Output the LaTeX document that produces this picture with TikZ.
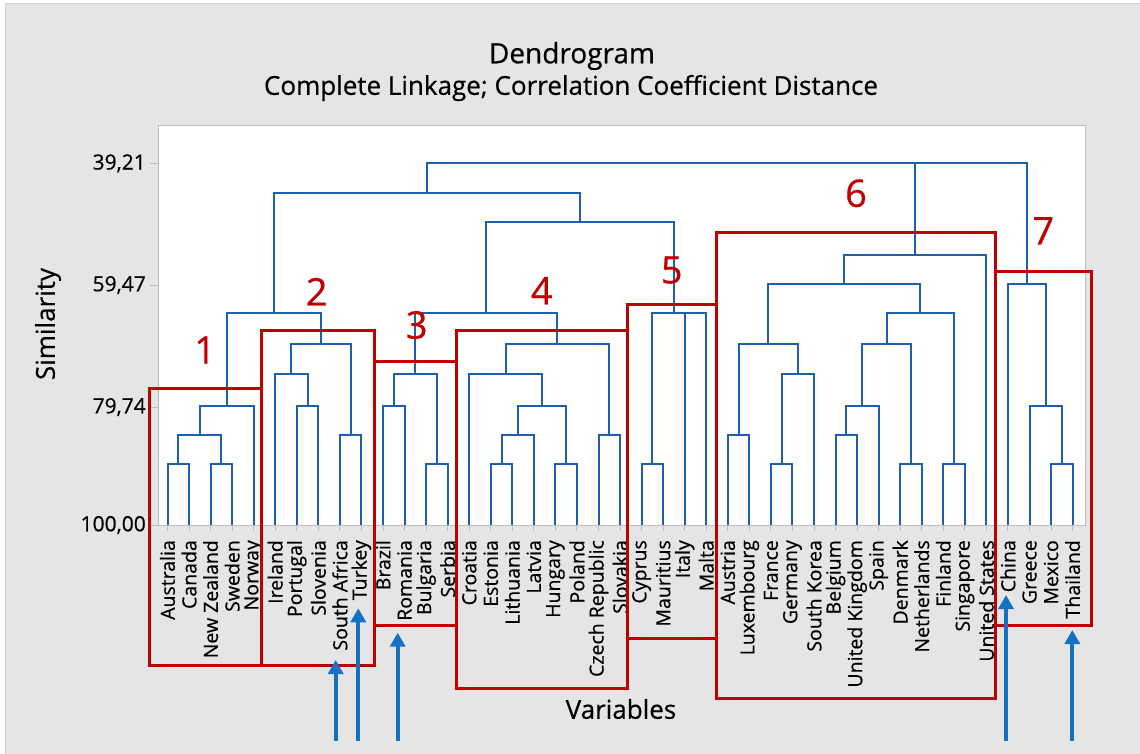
\documentclass[tikz,border=0pt]{standalone}
\usepackage{fontspec}
\setmainfont{Open Sans}[FakeBold=0.5]
\usetikzlibrary{calc,arrows.meta}

\definecolor{dendroblue}{RGB}{30,96,176}
\definecolor{boxred}{RGB}{192,0,0}
\definecolor{arrowblue}{RGB}{20,114,196}
\definecolor{panelgray}{RGB}{229,229,229}
\definecolor{framegray}{RGB}{190,190,190}

% join two clusters #1 and #2 into #3 at height #4 (pixels from top)
\newcommand{\mergeat}[4]{%
  \coordinate (#3-m) at ($(#1)!0.5!(#2)$);
  \coordinate (#3) at (#3-m |- 0,#4);
  \draw[dendro] (#1) -- (#1 |- #3) -- (#2 |- #3) -- (#2);
}

\begin{document}
\begin{tikzpicture}[x=1pt, y=-1pt,
    dendro/.style={dendroblue, line width=2pt},
    redbox/.style={boxred, line width=3pt},
    upmark/.style={arrowblue, line width=4pt, -{Triangle[width=15pt,length=14pt]}},
    tickline/.style={framegray, line width=1pt},
    leaflabel/.style={rotate=90, anchor=east, inner sep=0pt, font=\fontsize{19.5}{19.5}\selectfont},
    boxnum/.style={boxred, inner sep=0pt, font=\fontsize{38}{38}\selectfont}]
    \useasboundingbox (0,0) rectangle (1140,754);

    % 1. Nền và khung vùng vẽ
    \fill[white] (0,0) rectangle (1140,754);
    \draw[fill=panelgray, draw=framegray!70] (5,3) rectangle (1141,755);
    \draw[fill=white, draw=framegray] (158.3,125) rectangle (1085,525);

    % 2. Tiêu đề và nhãn trục
    \node[font=\fontsize{28}{28}\selectfont] (title) at (572,56) {Dendrogram};
    \node[font=\fontsize{26}{26}\selectfont] (subtitle) at (571,88) {Complete Linkage; Correlation Coefficient Distance};
    \node[rotate=90, font=\fontsize{26}{26}\selectfont] (ylab) at (48,324) {Similarity};
    \node[font=\fontsize{26}{26}\selectfont] (xlab) at (621,709) {Variables};

    % 3. Trục tung
    \foreach \val/\yy [count=\k] in {39{,}21/163.3, 59{,}47/285, 79{,}74/407, 100{,}00/525} {
        \draw[tickline] (150,\yy) -- (158.3,\yy);
        \node[anchor=east, inner sep=0pt, font=\fontsize{21}{21}\selectfont] (s\k) at (146,\yy) {\val};
    }

    % 4. Các lá và nhãn quốc gia
    \foreach \name [count=\i from 0] in {Australia, Canada, New Zealand, Sweden, Norway,
        Ireland, Portugal, Slovenia, South Africa, Turkey, Brazil, Romania, Bulgaria, Serbia,
        Croatia, Estonia, Lithuania, Latvia, Hungary, Poland, Czech Republic, Slovakia,
        Cyprus, Mauritius, Italy, Malta, Austria, Luxembourg, France, Germany, South Korea,
        Belgium, United Kingdom, Spain, Denmark, Netherlands, Finland, Singapore,
        United States, China, Greece, Mexico, Thailand} {
        \coordinate (l\i) at ({167.5+\i*21.55},525);
        \draw[tickline] (l\i) -- ++(0,6);
        \node[leaflabel] (t\i) at ($(l\i)+(0,15)$) {\name};
    }

    % 5. Cây phân cấp
    % nhóm 1
    \mergeat{l0}{l1}{a1}{464}
    \mergeat{l2}{l3}{a2}{464}
    \mergeat{a1}{a2}{a3}{435.3}
    \mergeat{a3}{l4}{g1}{406}
    % nhóm 2
    \mergeat{l6}{l7}{b1}{406}
    \mergeat{l5}{b1}{b2}{374.3}
    \mergeat{l8}{l9}{b3}{435.3}
    \mergeat{b2}{b3}{g2}{344}
    \mergeat{g1}{g2}{g12}{313.3}
    % nhóm 3
    \mergeat{l10}{l11}{c1}{406}
    \mergeat{l12}{l13}{c2}{464}
    \mergeat{c1}{c2}{g3}{374.3}
    % nhóm 4
    \mergeat{l15}{l16}{d1}{464}
    \mergeat{d1}{l17}{d2}{435.3}
    \mergeat{l18}{l19}{d3}{464}
    \mergeat{d2}{d3}{d4}{406}
    \mergeat{l14}{d4}{d5}{374.3}
    \mergeat{l20}{l21}{d6}{435.3}
    \mergeat{d5}{d6}{g4}{344}
    \mergeat{g3}{g4}{g34}{313.3}
    % nhóm 5
    \mergeat{l22}{l23}{e1}{464}
    \mergeat{l24}{l25}{e2}{313.3}
    \mergeat{e1}{e2}{g5}{313.3}
    \mergeat{g34}{g5}{g345}{222.3}
    \mergeat{g12}{g345}{gL}{193.3}
    % nhóm 6
    \mergeat{l26}{l27}{f1}{435.3}
    \mergeat{l28}{l29}{f2}{464}
    \mergeat{f2}{l30}{f3}{374.3}
    \mergeat{f1}{f3}{f4}{344}
    \mergeat{l31}{l32}{f5}{435.3}
    \mergeat{f5}{l33}{f6}{406}
    \mergeat{l34}{l35}{f7}{464}
    \mergeat{f6}{f7}{f8}{344}
    \mergeat{l36}{l37}{f9}{464}
    \mergeat{f8}{f9}{f10}{313.3}
    \mergeat{f4}{f10}{f11}{284.3}
    \mergeat{f11}{l38}{g6}{255}
    % nhóm 7
    \mergeat{l41}{l42}{h1}{464}
    \mergeat{l40}{h1}{h2}{406}
    \mergeat{l39}{h2}{g7}{284.3}
    % gốc
    \mergeat{g6}{g7}{gR}{163.3}
    \mergeat{gL}{gR}{root}{163.3}

    % 6. Khung đỏ các cụm
    \draw[redbox] (149,388.3) rectangle (261.5,665.7);
    \draw[redbox] (261.5,330.3) rectangle (374.3,665.7);
    \draw[redbox] (374.3,361.3) rectangle (456.5,625.3);
    \draw[redbox] (456.5,330.3) rectangle (627.7,688);
    \draw[redbox] (627.7,304) rectangle (716.7,638.3);
    \draw[redbox] (716.7,232) rectangle (995.3,698.3);
    \draw[redbox] (995.3,271) rectangle (1091.7,625.7);

    % 7. Số thứ tự cụm
    \node[boxnum] (n1) at (205,350) {1};
    \node[boxnum] (n2) at (316.7,291.7) {2};
    \node[boxnum] (n3) at (416.7,325) {3};
    \node[boxnum] (n4) at (541.7,290.7) {4};
    \node[boxnum] (n5) at (671.7,270) {5};
    \node[boxnum] (n6) at (856,193.3) {6};
    \node[boxnum] (n7) at (1043.3,230.7) {7};

    % 8. Mũi tên đánh dấu
    \coordinate (za0) at (335.7,741);  \coordinate (za1) at (335.7,660);
    \coordinate (tr0) at (358.3,741);  \coordinate (tr1) at (358.3,608.3);
    \coordinate (ro0) at (397.7,741);  \coordinate (ro1) at (397.7,632.7);
    \coordinate (cn0) at (1006,741);   \coordinate (cn1) at (1006,595);
    \coordinate (th0) at (1072.3,741); \coordinate (th1) at (1072.3,630);
    \draw[upmark] (za0) -- (za1);
    \draw[upmark] (tr0) -- (tr1);
    \draw[upmark] (ro0) -- (ro1);
    \draw[upmark] (cn0) -- (cn1);
    \draw[upmark] (th0) -- (th1);
\end{tikzpicture}
\end{document}
